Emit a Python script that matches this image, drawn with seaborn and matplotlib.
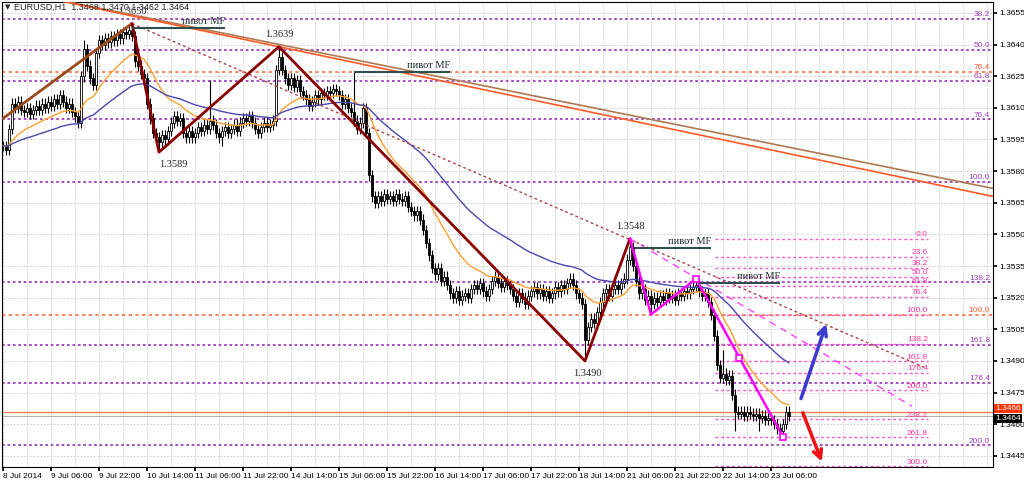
import numpy as np
import pandas as pd
import seaborn as sns
import matplotlib.pyplot as plt

# H1 closes, pips above 1.3400, one per bar starting 8 Jul 2014 14:00
close_pips = [192, 190, 200, 212, 210, 213, 209, 208, 210, 207,
              209, 211, 209, 212, 210, 213, 211, 214, 212, 216,
              213, 210, 212, 208, 206, 203, 225, 238, 230, 224,
              221, 236, 242, 240, 243, 241, 244, 242, 245, 243,
              246, 245, 247, 244, 232, 230, 226, 224, 212, 205,
              198, 196, 194, 197, 195, 199, 203, 206, 204, 205,
              198, 196, 199, 196, 198, 201, 199, 202, 200, 204,
              202, 198, 196, 199, 201, 198, 200, 202, 199, 203,
              205, 204, 206, 203, 200, 198, 201, 203, 201, 202,
              204, 228, 234, 228, 224, 221, 224, 220, 223, 218,
              216, 214, 211, 213, 216, 214, 217, 216, 218, 217,
              219, 218, 216, 212, 214, 210, 208, 204, 200, 203,
              210, 198, 178, 168, 165, 168, 166, 169, 167, 168,
              166, 169, 167, 166, 168, 163, 161, 159, 161, 157,
              152, 146, 140, 134, 131, 134, 128, 130, 126, 122,
              120, 123, 119, 121, 122, 120, 124, 126, 124, 127,
              123, 121, 124, 128, 130, 127, 125, 128, 126, 124,
              121, 118, 122, 120, 117, 121, 123, 125, 122, 124,
              121, 123, 120, 122, 125, 123, 126, 124, 127, 129,
              126, 122, 120, 117, 100, 106, 110, 108, 113, 118,
              122, 124, 121, 124, 126, 124, 127, 129, 138, 144,
              135, 128, 122, 124, 119, 121, 117, 120, 118, 121,
              119, 122, 120, 121, 119, 122, 121, 123, 122, 124,
              125, 126, 123, 121, 122, 118, 112, 102, 88, 82,
              84, 81, 83, 74, 66, 65, 66, 64, 66, 65,
              64, 65, 63, 64, 62, 63, 62, 60, 58, 57,
              60, 66, 64]
# notable wicks (bar -> pips)
spike_high = {27: 242, 43: 250, 69: 223, 92: 239, 117: 227, 209: 148, 231: 129, 240: 95}
spike_low = {52: 189, 73: 192, 194: 90, 216: 112, 244: 57, 252: 57, 259: 54}

time_labels = ["8 Jul 2014", "9 Jul 06:00", "9 Jul 22:00", "10 Jul 14:00", "11 Jul 06:00",
               "11 Jul 22:00", "14 Jul 14:00", "15 Jul 06:00", "15 Jul 22:00", "16 Jul 14:00",
               "17 Jul 06:00", "17 Jul 22:00", "18 Jul 14:00", "21 Jul 06:00", "21 Jul 22:00",
               "22 Jul 14:00", "23 Jul 06:00"]

# zigzag swings
zz_bars = [0, 43, 52, 92, 194, 209]
zz_prices = [1.3605, 1.3650, 1.3589, 1.3639, 1.3490, 1.3548]
mag_bars = [209, 216, 231, 260]
mag_prices = [1.3548, 1.3512, 1.3529, 1.3454]

# fibo grids
purple_p0, purple_p100 = 1.3700, 1.3575
purple_levels = [38.2, 50.0, 61.8, 76.4, 100.0, 138.2, 161.8, 176.4, 200.0]
orange_labels = ["76.4", "100.0"]
orange_prices = [1.3627, 1.3512]
pink_p0, pink_p100 = 1.3548, 1.3512
pink_levels = [0.0, 23.6, 38.2, 50.0, 61.8, 76.4, 100.0, 138.2, 161.8, 176.4, 200.0, 238.2, 261.8, 300.0]

# trend lines (bar, price)
brown_trend = [(21.2, 1.36604), (330, 1.35718)]
orange_trend = [(20.2, 1.36604), (330, 1.35680)]
dotted_line = [(43, 1.3650), (307, 1.3487)]
mag_dash = [(209, 1.3548), (303, 1.34685)]
pivot_lines = [(43, 74, 1.3648), (117, 149, 1.36268), (210, 236, 1.35434), (232, 259, 1.35268)]
blue_arrow = [(265.7, 1.34709), (274.7, 1.35088)]
red_arrow = [(266.3, 1.34666), (273.3, 1.34410)]
ask_price, bid_price = 1.3466, 1.3464

sns.set_theme(style="white")
plt.rcParams['font.family'] = ['Liberation Sans', 'DejaVu Sans']

closes = 1.34 + np.array(close_pips) / 10000
bars = np.arange(len(closes))
opens = np.r_[closes[0], closes[:-1]]
highs = np.maximum(opens, closes) + 0.00025
lows = np.minimum(opens, closes) - 0.00025
for b, v in spike_high.items():
    highs[b] = 1.34 + v / 10000
for b, v in spike_low.items():
    lows[b] = 1.34 + v / 10000

df = pd.DataFrame({"bar": bars, "close": closes})
df["ema21"] = df["close"].ewm(span=21, adjust=False).mean()
df["ema55"] = df["close"].ewm(span=55, adjust=False).mean()

fig = plt.figure(figsize=(10.24, 4.82), dpi=100)
ax = fig.add_axes([2 / 1024, 1 - 467 / 482, 991 / 1024, 465 / 482])
ax.set_xlim(-0.33, 330)
ax.set_ylim(1.34397, 1.36602)

yticks = np.arange(1.3445, 1.36551, 0.0015)
grid_c = "#c8c8c8"
ax.hlines(yticks, -1, 331, colors=grid_c, linestyles=(0, (2, 2)), lw=0.6, zorder=0)
ax.vlines(np.arange(0, 331, 8), 1.3, 1.4, colors=grid_c, linestyles=(0, (2, 2)), lw=0.6, zorder=0)

# fibo levels
for lv in purple_levels:
    p = purple_p0 + (purple_p100 - purple_p0) * lv / 100
    ax.axhline(p, color="#a040c0", ls=(0, (1.5, 1.5)), lw=1.3, zorder=1)
    ax.text(329, p + 0.00003, f"{lv:.1f}", color="#a040c0", fontsize=6, ha="right", va="bottom")
for lab, p in zip(orange_labels, orange_prices):
    ax.axhline(p, color="#ff7040", ls=(0, (2, 2)), lw=1.2, zorder=1)
    ax.text(329, p + 0.00003, lab, color="#ff6030", fontsize=6, ha="right", va="bottom")
for lv in pink_levels:
    p = pink_p0 + (pink_p100 - pink_p0) * lv / 100
    ax.hlines(p, 237.3, 308.3, colors="#ff55cc", linestyles=(0, (2, 2)), lw=1.0, zorder=1)
    ax.text(308.3, p + 0.00003, f"{lv:.1f}", color="#ff3399", fontsize=6, ha="right", va="bottom")

# price lines
ax.axhline(ask_price, color="#ff8060", lw=1.0, zorder=1)
ax.axhline(bid_price, color="#b0b0b0", lw=0.8, zorder=1)

# candles
up = closes >= opens
ax.vlines(bars, lows, highs, colors="black", lw=0.8, zorder=3)
body_h = np.maximum(np.abs(closes - opens), 0.00004)
ax.bar(bars, body_h, bottom=np.minimum(opens, closes), width=0.7,
       color=np.where(up, "white", "black"), edgecolor="black", lw=0.6, zorder=4)

# moving averages
sns.lineplot(data=df, x="bar", y="ema21", color="#ffa030", lw=1.0, ax=ax, zorder=5)
sns.lineplot(data=df, x="bar", y="ema55", color="#4848b0", lw=1.0, ax=ax, zorder=5)

# trend lines
(x0, y0), (x1, y1) = brown_trend
ax.plot([x0, x1], [y0, y1], color="#b07850", lw=1.2, zorder=6)
(x0, y0), (x1, y1) = orange_trend
ax.plot([x0, x1], [y0, y1], color="#ff5a28", lw=1.2, zorder=6)
(x0, y0), (x1, y1) = dotted_line
ax.plot([x0, x1], [y0, y1], color="#aa4444", lw=1.0, ls=(0, (2, 2)), zorder=6)
(x0, y0), (x1, y1) = mag_dash
ax.plot([x0, x1], [y0, y1], color="#ff44ff", lw=1.0, ls=(0, (5, 4)), zorder=6)

# zigzags
ax.plot(zz_bars[:2], zz_prices[:2], color="#9c4a1a", lw=2.0, zorder=7)
ax.plot(zz_bars[1:], zz_prices[1:], color="#8b0000", lw=2.0, zorder=7)
ax.plot(mag_bars, mag_prices, color="#ff00ff", lw=1.8, zorder=7)
mk_b = [mag_bars[2], (mag_bars[2] + mag_bars[3]) / 2, mag_bars[3]]
mk_p = [mag_prices[2], (mag_prices[2] + mag_prices[3]) / 2, mag_prices[3]]
ax.plot(mk_b, mk_p, ls="none", marker="s", ms=4, mfc="white", mec="#ff00ff", mew=1.2, zorder=8)

serif = ["Liberation Serif", "DejaVu Serif"]
for b, p in zip(zz_bars[1:], zz_prices[1:]):
    if p == 1.3589:
        ax.annotate(f"{p:.4f}", (b, p), xytext=(0, -9), textcoords="offset points",
                    ha="left", va="center", fontsize=7.5, family=serif)
    elif p == 1.3490:
        ax.annotate(f"{p:.4f}", (b, p), xytext=(2, -9), textcoords="offset points",
                    ha="center", va="center", fontsize=7.5, family=serif)
    else:
        ax.annotate(f"{p:.4f}", (b, p), xytext=(0, 9), textcoords="offset points",
                    ha="center", va="center", fontsize=7.5, family=serif, annotation_clip=False)

for b0, b1, p in pivot_lines:
    ax.hlines(p, b0, b1, colors="#2f4f4f", lw=1.5, zorder=7)
    ax.text(b1, p + 0.0001, "пивот MF", ha="right", va="bottom", fontsize=7.5,
            family=serif, color="#1a2a2a", zorder=8)

# arrows
ax.annotate("", xy=blue_arrow[1], xytext=blue_arrow[0],
            arrowprops=dict(arrowstyle="->,head_length=0.5,head_width=0.25", color="#3a3ad0", lw=2.5), zorder=9)
ax.annotate("", xy=red_arrow[1], xytext=red_arrow[0],
            arrowprops=dict(arrowstyle="->,head_length=0.5,head_width=0.25", color="#ee1111", lw=2.5), zorder=9)

# axes
ax.set_xlabel("")
ax.set_ylabel("")
ax.yaxis.tick_right()
ax.set_yticks(yticks)
ax.set_yticklabels([f"{t:.4f}" for t in yticks])
ax.set_xticks(np.arange(0, 16 * len(time_labels), 16))
ax.set_xticklabels(time_labels)
for lab in ax.get_xticklabels():
    lab.set_ha("left")
ax.tick_params(axis="y", right=True, left=False, length=3, pad=1.5, labelsize=6, colors="black")
ax.tick_params(axis="x", bottom=True, length=3, pad=1.5, labelsize=6, colors="black")
for s in ax.spines.values():
    s.set_color("black")
    s.set_linewidth(0.8)

# current price tags
ax.annotate(f"{ask_price:.4f}", (1.0, ask_price), xycoords=("axes fraction", "data"),
            xytext=(1.5, 2), textcoords="offset points", fontsize=6, color="white", va="center",
            bbox=dict(boxstyle="square,pad=0.12", fc="#ff3300", ec="none"), annotation_clip=False)
ax.annotate(f"{bid_price:.4f}", (1.0, bid_price), xycoords=("axes fraction", "data"),
            xytext=(1.5, -2), textcoords="offset points", fontsize=6, color="white", va="center",
            bbox=dict(boxstyle="square,pad=0.12", fc="black", ec="none"), annotation_clip=False)

fig.text(5 / 1024, 1 - 7 / 482, "▼", fontsize=5, va="center", family="DejaVu Sans")
fig.text(14 / 1024, 1 - 7 / 482, "EURUSD,H1  1.3468 1.3470 1.3462 1.3464", fontsize=6.5, va="center")

fig.savefig("out.png", dpi=100)
